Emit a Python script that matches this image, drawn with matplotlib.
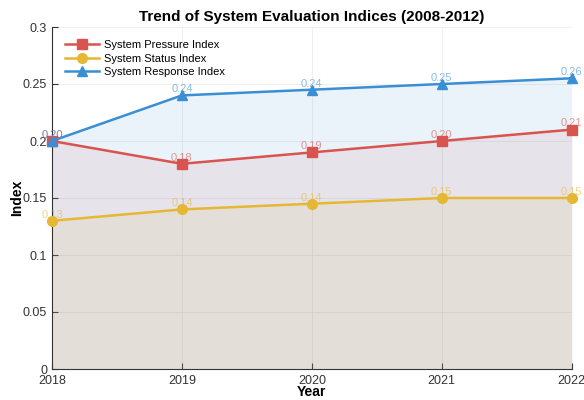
import matplotlib
matplotlib.use("Agg")
import matplotlib.pyplot as plt
import numpy as np

plt.rcParams['font.family'] = ['Liberation Sans', 'DejaVu Sans']

years = [2018, 2019, 2020, 2021, 2022]
pressure = [0.20, 0.18, 0.19, 0.20, 0.21]
status = [0.13, 0.14, 0.145, 0.15, 0.15]
response = [0.20, 0.24, 0.245, 0.25, 0.255]

series = [
    ("System Pressure Index", pressure, "#d9534f", "s"),
    ("System Status Index", status, "#e6b733", "o"),
    ("System Response Index", response, "#3a8fd4", "^"),
]

fig = plt.figure(figsize=(5.84, 4.0), dpi=100)
ax = fig.add_axes([0.089, 0.0775, 0.890, 0.855])

for name, vals, col, mk in series:
    ax.fill_between(years, vals, 0, color=col, alpha=0.1, linewidth=0)
for name, vals, col, mk in series:
    ax.plot(years, vals, color=col, marker=mk, markersize=7, linewidth=1.8, label=name,
            zorder=3, clip_on=False)
    for x, y in zip(years, vals):
        ax.text(x, y + 0.001, f"{y:.2f}", color=col, alpha=0.6, fontsize=8,
                ha='center', va='bottom', zorder=4)

ax.set_xlim(2018, 2022)
ax.set_ylim(0, 0.3)
ax.set_xticks(years)
ax.set_xticklabels([str(y) for y in years])
ax.set_yticks([0, 0.05, 0.1, 0.15, 0.2, 0.25, 0.3])
ax.set_yticklabels(["0", "0.05", "0.1", "0.15", "0.2", "0.25", "0.3"])
ax.tick_params(direction='in', labelsize=9, colors='#333333', length=4)
ax.tick_params(axis='x', pad=4)
ax.grid(True, color='#ececec', linewidth=0.6)
ax.set_axisbelow(True)
for s in ['top', 'right']:
    ax.spines[s].set_visible(False)
for s in ['left', 'bottom']:
    ax.spines[s].set_color('#333333')

ax.set_title("Trend of System Evaluation Indices (2008-2012)", fontsize=11, fontweight='bold', pad=4)
ax.set_xlabel("Year", fontsize=10, fontweight='bold', labelpad=-1)
ax.set_ylabel("Index", fontsize=10, fontweight='bold', labelpad=-1)
ax.legend(loc='upper left', frameon=False, fontsize=8, handlelength=3, borderaxespad=0.8,
          labelspacing=0.3, handletextpad=0.5, markerscale=1.0)

fig.savefig("out.png", dpi=100)
